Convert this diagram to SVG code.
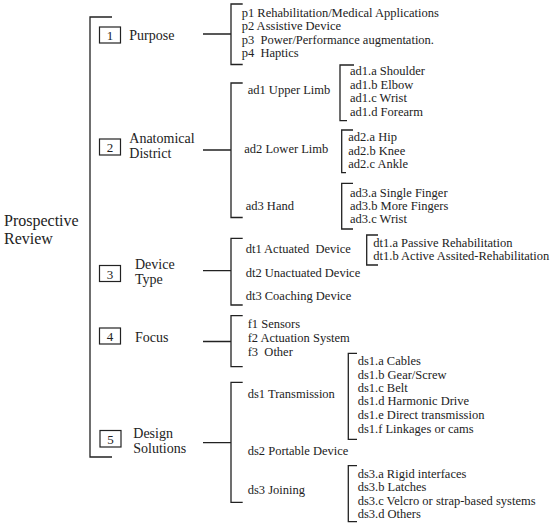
<svg xmlns="http://www.w3.org/2000/svg" width="550" height="528" viewBox="0 0 550 528">
<style>
text{font-family:"Liberation Serif","Times New Roman",serif;fill:#222;white-space:pre}
.m{font-size:14px}
.s{font-size:12.5px}
.n{font-size:13px;text-anchor:middle}
.t{font-size:16px}
.b{fill:#fff;stroke:#222;stroke-width:1.2}
.c{fill:none;stroke:#222;stroke-width:1.3}
</style>
<rect width="550" height="528" fill="#fff"/>
<g id="connectors">
<path class="c" d="M112,17H90V457H112"/>
<path class="c" d="M203,34H231M242.7,4H231V64.5H242.7"/>
<path class="c" d="M203,150H231M242.7,83H231V217.5H242.7"/>
<path class="c" d="M354,65H340V120.7H347"/>
<path class="c" d="M353,130H341.7V172.7H346"/>
<path class="c" d="M353,183.3H341.7V229H353"/>
<path class="c" d="M203,270.7H231M242.7,238.3H231V305H242.7"/>
<path class="c" d="M378,235H366.7V265H378"/>
<path class="c" d="M203,341.5H231M242.7,315.7H231V366.7H242.7"/>
<path class="c" d="M203,442.7H231M242.7,382.3H231V502.3H242.7"/>
<path class="c" d="M357,353.3H348.3V439.3H357"/>
<path class="c" d="M357,465.7H348.3V521.7H357"/>
</g>
<g id="root"><text class="t" x="4" y="226">Prospective</text><text class="t" x="4" y="244">Review</text></g>
<g id="n1"><rect class="b" x="99.5" y="27" width="21" height="16"/><text class="n" x="110" y="40">1</text><text class="m" x="129.3" y="40">Purpose</text></g>
<g id="p-items">
<text class="s" x="241.7" y="17" xml:space="preserve">p1 Rehabilitation/Medical Applications</text>
<text class="s" x="241.7" y="30.3" xml:space="preserve">p2 Assistive Device</text>
<text class="s" x="241.7" y="43.6" xml:space="preserve">p3  Power/Performance augmentation.</text>
<text class="s" x="241.7" y="57" xml:space="preserve">p4  Haptics</text>
</g>
<g id="n2"><rect class="b" x="99.5" y="139" width="21" height="16"/><text class="n" x="110" y="152">2</text><text class="m" x="129.3" y="142.5">Anatomical</text><text class="m" x="129.3" y="158">District</text></g>
<g id="ad1"><text class="s" x="247.7" y="93.5">ad1 Upper Limb</text>
<text class="s" x="350" y="75">ad1.a Shoulder</text><text class="s" x="350" y="88.5">ad1.b Elbow</text><text class="s" x="350" y="102">ad1.c Wrist</text><text class="s" x="350" y="115.5">ad1.d Forearm</text></g>
<g id="ad2"><text class="s" x="244.3" y="152.5">ad2 Lower Limb</text>
<text class="s" x="348.3" y="141">ad2.a Hip</text><text class="s" x="348.3" y="154.5">ad2.b Knee</text><text class="s" x="348.3" y="168">ad2.c Ankle</text></g>
<g id="ad3"><text class="s" x="245.7" y="210">ad3 Hand</text>
<text class="s" x="350" y="196.5">ad3.a Single Finger</text><text class="s" x="350" y="209.5">ad3.b More Fingers</text><text class="s" x="350" y="223">ad3.c Wrist</text></g>
<g id="n3"><rect class="b" x="99.5" y="265.5" width="21" height="16"/><text class="n" x="110" y="278.5">3</text><text class="m" x="135" y="268.5">Device</text><text class="m" x="135" y="284">Type</text></g>
<g id="dt"><text class="s" x="245.7" y="252.5" xml:space="preserve">dt1 Actuated  Device</text><text class="s" x="245.7" y="277">dt2 Unactuated Device</text><text class="s" x="245.7" y="300">dt3 Coaching Device</text>
<text class="s" x="373.3" y="246.5">dt1.a Passive Rehabilitation</text><text class="s" x="373.3" y="260">dt1.b Active Assited-Rehabilitation</text></g>
<g id="n4"><rect class="b" x="99.5" y="328" width="21" height="16"/><text class="n" x="110" y="341">4</text><text class="m" x="135" y="342">Focus</text></g>
<g id="f"><text class="s" x="247.7" y="328">f1 Sensors</text><text class="s" x="247.7" y="341.5">f2 Actuation System</text><text class="s" x="247.7" y="355.5" xml:space="preserve">f3  Other</text></g>
<g id="n5"><rect class="b" x="100" y="430.5" width="21" height="16.5"/><text class="n" x="110.5" y="443.5">5</text><text class="m" x="133.3" y="438">Design</text><text class="m" x="133.3" y="453">Solutions</text></g>
<g id="ds"><text class="s" x="247.7" y="397.5">ds1 Transmission</text><text class="s" x="247.7" y="455">ds2 Portable Device</text><text class="s" x="247.7" y="494">ds3 Joining</text>
<text class="s" x="357.7" y="365">ds1.a Cables</text><text class="s" x="357.7" y="378.5">ds1.b Gear/Screw</text><text class="s" x="357.7" y="391.8">ds1.c Belt</text><text class="s" x="357.7" y="405.3">ds1.d Harmonic Drive</text><text class="s" x="357.7" y="418.6">ds1.e Direct transmission</text><text class="s" x="357.7" y="432.5">ds1.f Linkages or cams</text>
<text class="s" x="357.7" y="477.5">ds3.a Rigid interfaces</text><text class="s" x="357.7" y="491">ds3.b Latches</text><text class="s" x="357.7" y="504.8">ds3.c Velcro or strap-based systems</text><text class="s" x="357.7" y="518">ds3.d Others</text></g>
</svg>
